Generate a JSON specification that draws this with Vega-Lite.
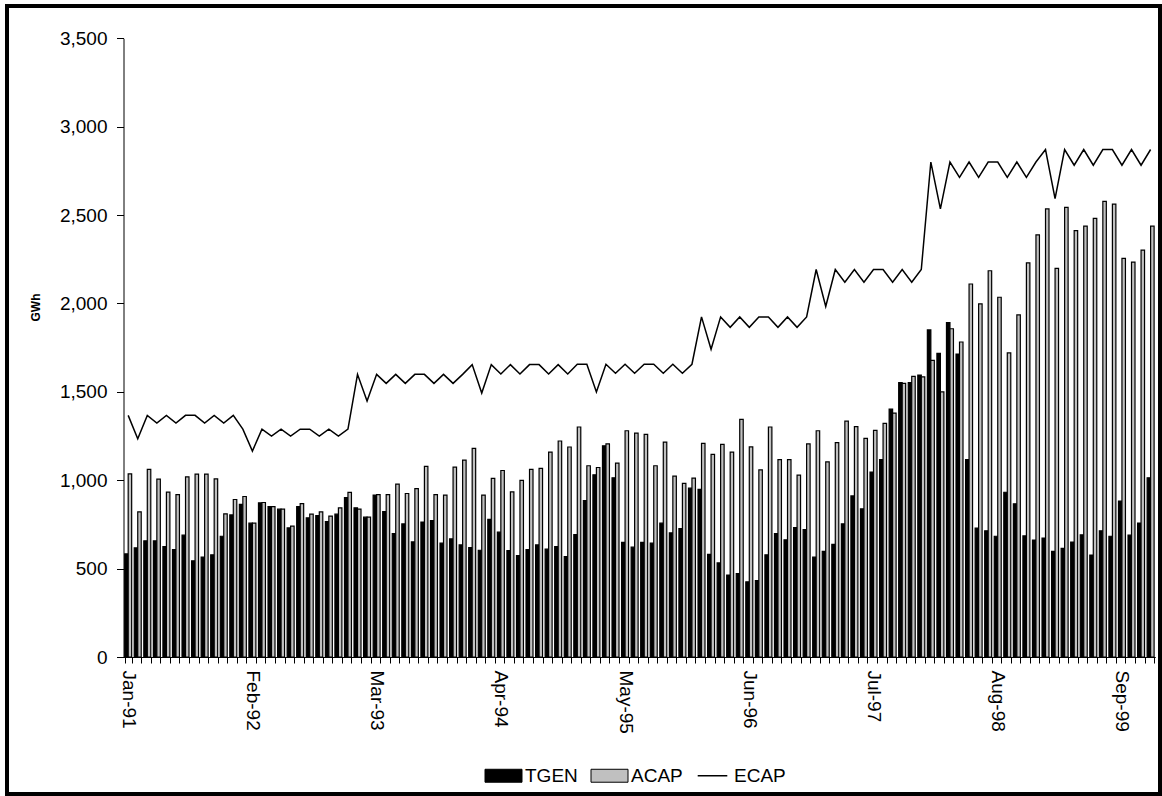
{
  "$schema": "https://vega.github.io/schema/vega-lite/v6.json",
  "width": 1153,
  "height": 788,
  "autosize": {"type": "none"},
  "padding": {"left": 7, "top": 6, "right": 2, "bottom": 2},
  "background": "white",
  "config": {
    "font": "Liberation Sans",
    "view": {"stroke": "black", "strokeWidth": 4, "fill": "white"},
    "axis": {"labelFont": "Liberation Sans", "titleFont": "Liberation Sans", "labelColor": "black", "titleColor": "black", "domainColor": "black", "tickColor": "black", "grid": false},
    "legend": {"labelFont": "Liberation Sans", "labelColor": "black"}
  },
  "data": {"values": [
    {"month": "Jan-91", "TGEN": 583, "ACAP": 1036, "ECAP": 1367},
    {"month": "Feb-91", "TGEN": 617, "ACAP": 821, "ECAP": 1235},
    {"month": "Mar-91", "TGEN": 657, "ACAP": 1061, "ECAP": 1367},
    {"month": "Apr-91", "TGEN": 657, "ACAP": 1006, "ECAP": 1323},
    {"month": "May-91", "TGEN": 625, "ACAP": 933, "ECAP": 1367},
    {"month": "Jun-91", "TGEN": 608, "ACAP": 919, "ECAP": 1323},
    {"month": "Jul-91", "TGEN": 689, "ACAP": 1019, "ECAP": 1367},
    {"month": "Aug-91", "TGEN": 544, "ACAP": 1035, "ECAP": 1367},
    {"month": "Sep-91", "TGEN": 565, "ACAP": 1035, "ECAP": 1323},
    {"month": "Oct-91", "TGEN": 578, "ACAP": 1008, "ECAP": 1367},
    {"month": "Nov-91", "TGEN": 683, "ACAP": 810, "ECAP": 1323},
    {"month": "Dec-91", "TGEN": 804, "ACAP": 891, "ECAP": 1367},
    {"month": "Jan-92", "TGEN": 863, "ACAP": 908, "ECAP": 1289},
    {"month": "Feb-92", "TGEN": 757, "ACAP": 757, "ECAP": 1165},
    {"month": "Mar-92", "TGEN": 872, "ACAP": 874, "ECAP": 1289},
    {"month": "Apr-92", "TGEN": 851, "ACAP": 851, "ECAP": 1250},
    {"month": "May-92", "TGEN": 836, "ACAP": 836, "ECAP": 1289},
    {"month": "Jun-92", "TGEN": 730, "ACAP": 740, "ECAP": 1250},
    {"month": "Jul-92", "TGEN": 851, "ACAP": 868, "ECAP": 1289},
    {"month": "Aug-92", "TGEN": 787, "ACAP": 808, "ECAP": 1289},
    {"month": "Sep-92", "TGEN": 800, "ACAP": 821, "ECAP": 1250},
    {"month": "Oct-92", "TGEN": 766, "ACAP": 797, "ECAP": 1289},
    {"month": "Nov-92", "TGEN": 808, "ACAP": 844, "ECAP": 1250},
    {"month": "Dec-92", "TGEN": 902, "ACAP": 931, "ECAP": 1289},
    {"month": "Jan-93", "TGEN": 844, "ACAP": 836, "ECAP": 1599},
    {"month": "Feb-93", "TGEN": 791, "ACAP": 791, "ECAP": 1448},
    {"month": "Mar-93", "TGEN": 916, "ACAP": 919, "ECAP": 1599},
    {"month": "Apr-93", "TGEN": 823, "ACAP": 919, "ECAP": 1548},
    {"month": "May-93", "TGEN": 698, "ACAP": 978, "ECAP": 1599},
    {"month": "Jun-93", "TGEN": 753, "ACAP": 925, "ECAP": 1548},
    {"month": "Jul-93", "TGEN": 651, "ACAP": 953, "ECAP": 1599},
    {"month": "Aug-93", "TGEN": 763, "ACAP": 1078, "ECAP": 1599},
    {"month": "Sep-93", "TGEN": 772, "ACAP": 919, "ECAP": 1548},
    {"month": "Oct-93", "TGEN": 644, "ACAP": 916, "ECAP": 1599},
    {"month": "Nov-93", "TGEN": 668, "ACAP": 1074, "ECAP": 1548},
    {"month": "Dec-93", "TGEN": 634, "ACAP": 1114, "ECAP": 1599},
    {"month": "Jan-94", "TGEN": 619, "ACAP": 1180, "ECAP": 1654},
    {"month": "Feb-94", "TGEN": 604, "ACAP": 916, "ECAP": 1493},
    {"month": "Mar-94", "TGEN": 778, "ACAP": 1010, "ECAP": 1654},
    {"month": "Apr-94", "TGEN": 706, "ACAP": 1055, "ECAP": 1601},
    {"month": "May-94", "TGEN": 602, "ACAP": 934, "ECAP": 1654},
    {"month": "Jun-94", "TGEN": 574, "ACAP": 999, "ECAP": 1601},
    {"month": "Jul-94", "TGEN": 608, "ACAP": 1061, "ECAP": 1654},
    {"month": "Aug-94", "TGEN": 634, "ACAP": 1067, "ECAP": 1654},
    {"month": "Sep-94", "TGEN": 610, "ACAP": 1159, "ECAP": 1601},
    {"month": "Oct-94", "TGEN": 625, "ACAP": 1222, "ECAP": 1654},
    {"month": "Nov-94", "TGEN": 568, "ACAP": 1188, "ECAP": 1601},
    {"month": "Dec-94", "TGEN": 693, "ACAP": 1301, "ECAP": 1656},
    {"month": "Jan-95", "TGEN": 885, "ACAP": 1082, "ECAP": 1656},
    {"month": "Feb-95", "TGEN": 1031, "ACAP": 1072, "ECAP": 1499},
    {"month": "Mar-95", "TGEN": 1195, "ACAP": 1206, "ECAP": 1656},
    {"month": "Apr-95", "TGEN": 1014, "ACAP": 1097, "ECAP": 1605},
    {"month": "May-95", "TGEN": 649, "ACAP": 1280, "ECAP": 1656},
    {"month": "Jun-95", "TGEN": 621, "ACAP": 1267, "ECAP": 1605},
    {"month": "Jul-95", "TGEN": 649, "ACAP": 1259, "ECAP": 1656},
    {"month": "Aug-95", "TGEN": 644, "ACAP": 1082, "ECAP": 1656},
    {"month": "Sep-95", "TGEN": 757, "ACAP": 1216, "ECAP": 1605},
    {"month": "Oct-95", "TGEN": 702, "ACAP": 1023, "ECAP": 1656},
    {"month": "Nov-95", "TGEN": 727, "ACAP": 982, "ECAP": 1605},
    {"month": "Dec-95", "TGEN": 955, "ACAP": 1012, "ECAP": 1656},
    {"month": "Jan-96", "TGEN": 948, "ACAP": 1208, "ECAP": 1924},
    {"month": "Feb-96", "TGEN": 580, "ACAP": 1146, "ECAP": 1741},
    {"month": "Mar-96", "TGEN": 532, "ACAP": 1203, "ECAP": 1924},
    {"month": "Apr-96", "TGEN": 464, "ACAP": 1159, "ECAP": 1865},
    {"month": "May-96", "TGEN": 472, "ACAP": 1344, "ECAP": 1924},
    {"month": "Jun-96", "TGEN": 425, "ACAP": 1189, "ECAP": 1865},
    {"month": "Jul-96", "TGEN": 432, "ACAP": 1059, "ECAP": 1924},
    {"month": "Aug-96", "TGEN": 578, "ACAP": 1301, "ECAP": 1924},
    {"month": "Sep-96", "TGEN": 698, "ACAP": 1117, "ECAP": 1865},
    {"month": "Oct-96", "TGEN": 663, "ACAP": 1117, "ECAP": 1924},
    {"month": "Nov-96", "TGEN": 732, "ACAP": 1029, "ECAP": 1865},
    {"month": "Dec-96", "TGEN": 720, "ACAP": 1206, "ECAP": 1924},
    {"month": "Jan-97", "TGEN": 565, "ACAP": 1280, "ECAP": 2192},
    {"month": "Feb-97", "TGEN": 598, "ACAP": 1104, "ECAP": 1983},
    {"month": "Mar-97", "TGEN": 637, "ACAP": 1213, "ECAP": 2192},
    {"month": "Apr-97", "TGEN": 753, "ACAP": 1334, "ECAP": 2120},
    {"month": "May-97", "TGEN": 911, "ACAP": 1303, "ECAP": 2192},
    {"month": "Jun-97", "TGEN": 838, "ACAP": 1237, "ECAP": 2120},
    {"month": "Jul-97", "TGEN": 1046, "ACAP": 1282, "ECAP": 2192},
    {"month": "Aug-97", "TGEN": 1116, "ACAP": 1322, "ECAP": 2192},
    {"month": "Sep-97", "TGEN": 1402, "ACAP": 1380, "ECAP": 2120},
    {"month": "Oct-97", "TGEN": 1552, "ACAP": 1548, "ECAP": 2192},
    {"month": "Nov-97", "TGEN": 1552, "ACAP": 1587, "ECAP": 2120},
    {"month": "Dec-97", "TGEN": 1595, "ACAP": 1585, "ECAP": 2192},
    {"month": "Jan-98", "TGEN": 1850, "ACAP": 1678, "ECAP": 2800},
    {"month": "Feb-98", "TGEN": 1718, "ACAP": 1500, "ECAP": 2535},
    {"month": "Mar-98", "TGEN": 1892, "ACAP": 1857, "ECAP": 2800},
    {"month": "Apr-98", "TGEN": 1714, "ACAP": 1782, "ECAP": 2713},
    {"month": "May-98", "TGEN": 1116, "ACAP": 2110, "ECAP": 2800},
    {"month": "Jun-98", "TGEN": 729, "ACAP": 1998, "ECAP": 2713},
    {"month": "Jul-98", "TGEN": 714, "ACAP": 2185, "ECAP": 2800},
    {"month": "Aug-98", "TGEN": 683, "ACAP": 2035, "ECAP": 2800},
    {"month": "Sep-98", "TGEN": 932, "ACAP": 1720, "ECAP": 2713},
    {"month": "Oct-98", "TGEN": 867, "ACAP": 1935, "ECAP": 2800},
    {"month": "Nov-98", "TGEN": 685, "ACAP": 2230, "ECAP": 2713},
    {"month": "Dec-98", "TGEN": 662, "ACAP": 2388, "ECAP": 2800},
    {"month": "Jan-99", "TGEN": 673, "ACAP": 2535, "ECAP": 2871},
    {"month": "Feb-99", "TGEN": 598, "ACAP": 2199, "ECAP": 2593},
    {"month": "Mar-99", "TGEN": 614, "ACAP": 2543, "ECAP": 2871},
    {"month": "Apr-99", "TGEN": 650, "ACAP": 2412, "ECAP": 2782},
    {"month": "May-99", "TGEN": 691, "ACAP": 2438, "ECAP": 2871},
    {"month": "Jun-99", "TGEN": 577, "ACAP": 2481, "ECAP": 2782},
    {"month": "Jul-99", "TGEN": 714, "ACAP": 2578, "ECAP": 2871},
    {"month": "Aug-99", "TGEN": 683, "ACAP": 2562, "ECAP": 2871},
    {"month": "Sep-99", "TGEN": 882, "ACAP": 2255, "ECAP": 2782},
    {"month": "Oct-99", "TGEN": 689, "ACAP": 2234, "ECAP": 2871},
    {"month": "Nov-99", "TGEN": 758, "ACAP": 2302, "ECAP": 2782},
    {"month": "Dec-99", "TGEN": 1014, "ACAP": 2437, "ECAP": 2871}
  ]},
  "transform": [{"fold": ["TGEN", "ACAP", "ECAP"], "as": ["series", "value"]}],
  "encoding": {
    "x": {
      "field": "month", "type": "ordinal", "sort": null,
      "scale": {"range": [116.5, 1148.3], "paddingInner": 0.27, "paddingOuter": 0.125},
      "axis": {
        "title": null, "offset": -137, "labelAngle": 90, "labelFontSize": 19, "labelPadding": 7,
        "tickSize": 6, "tickBand": "extent", "labelOverlap": false,
        "labelExpr": "indexof(['Jan-91','Feb-92','Mar-93','Apr-94','May-95','Jun-96','Jul-97','Aug-98','Sep-99'], datum.value) >= 0 ? datum.value : ''"
      }
    },
    "y": {
      "field": "value", "type": "quantitative",
      "scale": {"domain": [0, 3500], "range": [651, 32.3], "nice": false},
      "axis": {
        "title": "GWh", "offset": -116.5, "values": [0, 500, 1000, 1500, 2000, 2500, 3000, 3500], "format": ",.0f",
        "labelFontSize": 19, "labelPadding": 9.5, "tickSize": 7,
        "titleFontSize": 12, "titleFontWeight": "bold", "titleAngle": 270, "titleX": -88.5, "titleY": 301,
        "titleAlign": "center", "titleBaseline": "middle"
      }
    },
    "color": {
      "field": "series", "type": "nominal",
      "scale": {"domain": ["TGEN", "ACAP", "ECAP"], "range": ["black", "#c0c0c0", "black"]},
      "legend": {
        "title": null, "orient": "none", "legendX": 487, "legendY": 760, "direction": "horizontal",
        "symbolType": "M-1,-0.35H1V0.35H-1Z", "symbolSize": 1369, "symbolStrokeColor": "black", "symbolStrokeWidth": 1,
        "labelFontSize": 19, "labelOffset": 12, "columnPadding": 11, "padding": 0,
        "encode": {"symbols": {"update": {
          "shape": {"signal": "datum.value === 'ECAP' ? 'M-0.8,0H0.8' : 'M-1,-0.35H1V0.35H-1Z'"},
          "fill": {"signal": "datum.value === 'ECAP' ? 'transparent' : (datum.value === 'TGEN' ? 'black' : '#c0c0c0')"},
          "stroke": {"value": "black"},
          "strokeWidth": {"signal": "datum.value === 'ECAP' ? 1.5 : 1"},
          "opacity": {"value": 1}
        }}}
      }
    },
    "stroke": {
      "field": "series", "type": "nominal",
      "scale": {"domain": ["TGEN", "ACAP", "ECAP"], "range": ["black", "black", "black"]}
    }
  },
  "layer": [
    {
      "transform": [{"filter": "datum.series !== 'ECAP'"}],
      "mark": {"type": "bar", "strokeWidth": 1.2},
      "encoding": {
        "xOffset": {"field": "series", "type": "nominal", "sort": ["TGEN", "ACAP"], "scale": {"paddingInner": 0, "paddingOuter": 0}}
      }
    },
    {
      "transform": [{"filter": "datum.series === 'ECAP'"}],
      "mark": {"type": "line", "strokeWidth": 1.5},
      "encoding": {}
    }
  ]
}
